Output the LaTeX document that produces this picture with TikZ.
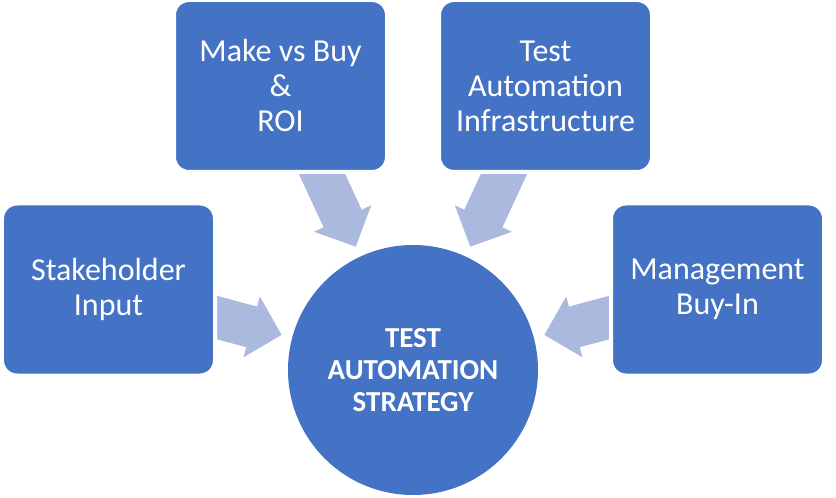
\documentclass[tikz,border=0pt]{standalone}
\usepackage{fontspec}
\setmainfont{Carlito}
\usetikzlibrary{calc}
\definecolor{boxblue}{RGB}{68,114,196}
\definecolor{arrblue}{RGB}{170,185,221}
\tikzset{
  box/.style={rectangle, rounded corners=15bp, fill=boxblue, draw=white, line width=4bp,
    minimum width=213bp, minimum height=172bp, inner sep=0pt, text=white, align=center,
    font=\fontsize{32bp}{35bp}\selectfont},
  hub/.style={circle, fill=boxblue, minimum size=250bp, inner sep=0pt, text=white, align=center,
    font=\fontsize{29bp}{32bp}\selectfont\bfseries},
  blockarrow/.style={fill=arrblue}
}
\newcommand\blockarr[2]{%
  \coordinate (#1-base) at ($(#2)!31bp!(#1)$);
  \fill[blockarrow] ($(#1)!21bp!90:(#2)$) -- ($(#1-base)!21bp!90:(#2)$)
    -- ($(#1-base)!31.5bp!90:(#2)$) -- (#2) -- ($(#1-base)!31.5bp!-90:(#2)$)
    -- ($(#1-base)!21bp!-90:(#2)$) -- ($(#1)!21bp!-90:(#2)$) -- cycle;
}
\begin{document}
\begin{tikzpicture}[x=1bp,y=-1bp]
\useasboundingbox (0,0) rectangle (836,498);
\node[hub] (hub) at (413,370) {TEST\\AUTOMATION\\STRATEGY};
% arrow start points (hidden under the boxes) and tips
\coordinate (sS) at (200.5,313.2);
\coordinate (mS) at (625.5,313.2);
\coordinate (lS) at (315.5,160);
\coordinate (rS) at (510.5,160);
\coordinate (sT) at ($(hub.center)!136bp!(sS)$);
\coordinate (mT) at ($(hub.center)!136bp!(mS)$);
\coordinate (lT) at ($(hub.center)!136bp!(lS)$);
\coordinate (rT) at ($(hub.center)!136bp!(rS)$);
\blockarr{sS}{sT}
\blockarr{mS}{mT}
\blockarr{lS}{lT}
\blockarr{rS}{rT}
\node[box] (make) at (280.5,86) {Make vs Buy\\\&\\ROI};
\node[box] (infra) at (545.5,86) {Test\\Automation\\Infrastructure};
\node[box] (stake) at (108.5,289.5) {Stakeholder\\Input};
\node[box] (mgmt) at (717.5,289.5) {Management\\Buy-In};
\end{tikzpicture}
\end{document}
